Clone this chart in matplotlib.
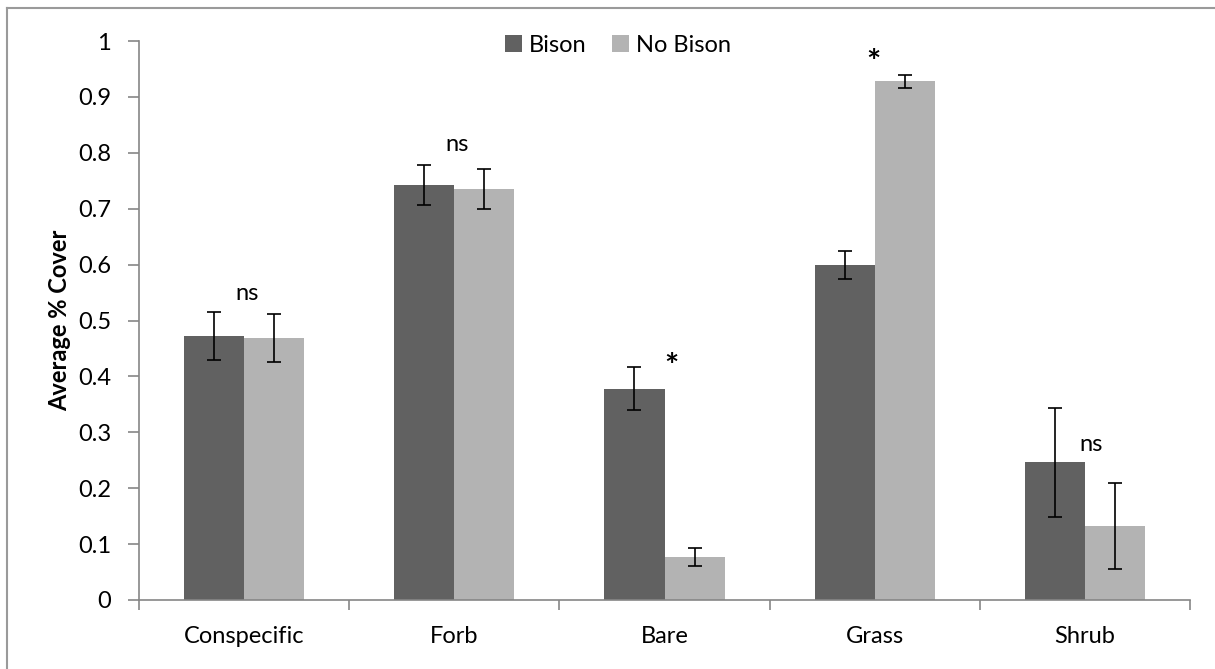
import matplotlib
matplotlib.use("Agg")
import matplotlib.pyplot as plt
import numpy as np
from matplotlib.lines import Line2D

plt.rcParams['font.family'] = ['Lato', 'DejaVu Sans']

categories = ["Conspecific", "Forb", "Bare", "Grass", "Shrub"]
bison = [0.472, 0.742, 0.378, 0.600, 0.246]
bison_err = [0.043, 0.036, 0.038, 0.025, 0.097]
no_bison = [0.469, 0.735, 0.077, 0.928, 0.132]
no_bison_err = [0.043, 0.036, 0.016, 0.012, 0.077]
sig_labels = ["ns", "ns", "*", "*", "ns"]
sig_x = [0.015, 1.014, 2.031, 2.992, 4.029]
sig_y = [0.549, 0.814, 0.416, 0.959, 0.279]
yticks = [0, 0.1, 0.2, 0.3, 0.4, 0.5, 0.6, 0.7, 0.8, 0.9, 1]

W, H = 1215, 669
FS = 17
fig = plt.figure(figsize=(W / 100, H / 100), dpi=100)
ax = fig.add_axes([139 / W, 1 - 600 / H, (1190 - 139) / W, (600 - 41) / H])

x = np.arange(len(categories))
bw = 0.286
dark = "#616161"
light = "#b3b3b3"
axis_col = "#868686"

ax.bar(x - bw / 2, bison, bw, color=dark, label="Bison", zorder=2)
ax.bar(x + bw / 2, no_bison, bw, color=light, label="No Bison", zorder=2)
ekw = dict(fmt="none", ecolor="black", elinewidth=1.2, capsize=5, capthick=1.2, zorder=3)
ax.errorbar(x - bw / 2, bison, yerr=bison_err, **ekw)
ax.errorbar(x + bw / 2, no_bison, yerr=no_bison_err, **ekw)

for lab, sx, sy in zip(sig_labels, sig_x, sig_y):
    if lab == "*":
        ax.text(sx, sy, lab, ha="center", va="center", fontsize=24,
                fontweight="bold", color="black")
    else:
        ax.text(sx, sy, lab, ha="center", va="center", fontsize=FS, color="black")

ax.set_xlim(-0.5, len(categories) - 0.5)
ax.set_ylim(0, 1)
ax.set_yticks(yticks)
ax.set_yticklabels([("%g" % t) for t in yticks], fontsize=FS)
ax.set_xticks(x)
ax.set_xticklabels(categories, fontsize=FS)
ax.tick_params(axis="x", length=0, pad=19)
ax.set_xticks(np.arange(-0.5, len(categories)), minor=True)
ax.tick_params(axis="x", which="minor", length=7, color=axis_col, width=1.2)
ax.tick_params(axis="y", length=8, color=axis_col, width=1.2, pad=12)

for s in ["top", "right"]:
    ax.spines[s].set_visible(False)
for s in ["left", "bottom"]:
    ax.spines[s].set_color(axis_col)
    ax.spines[s].set_linewidth(1.2)

ax.set_ylabel("Average % Cover", fontsize=FS, fontweight="bold", labelpad=5)

leg = ax.legend(loc="center", bbox_to_anchor=(618 / W, 1 - 45 / H),
                bbox_transform=fig.transFigure, ncol=2, frameon=False,
                fontsize=FS, handlelength=0.7, handleheight=0.7,
                handletextpad=0.3, columnspacing=1.1)

# outer chart frame (left and top edges)
fig.add_artist(Line2D([7 / W, 7 / W], [0, 1 - 8 / H], transform=fig.transFigure,
                      color="#9a9a9a", lw=1.5))
fig.add_artist(Line2D([7 / W, 1], [1 - 8 / H, 1 - 8 / H], transform=fig.transFigure,
                      color="#9a9a9a", lw=1.5))

fig.savefig("out.png", dpi=100)
